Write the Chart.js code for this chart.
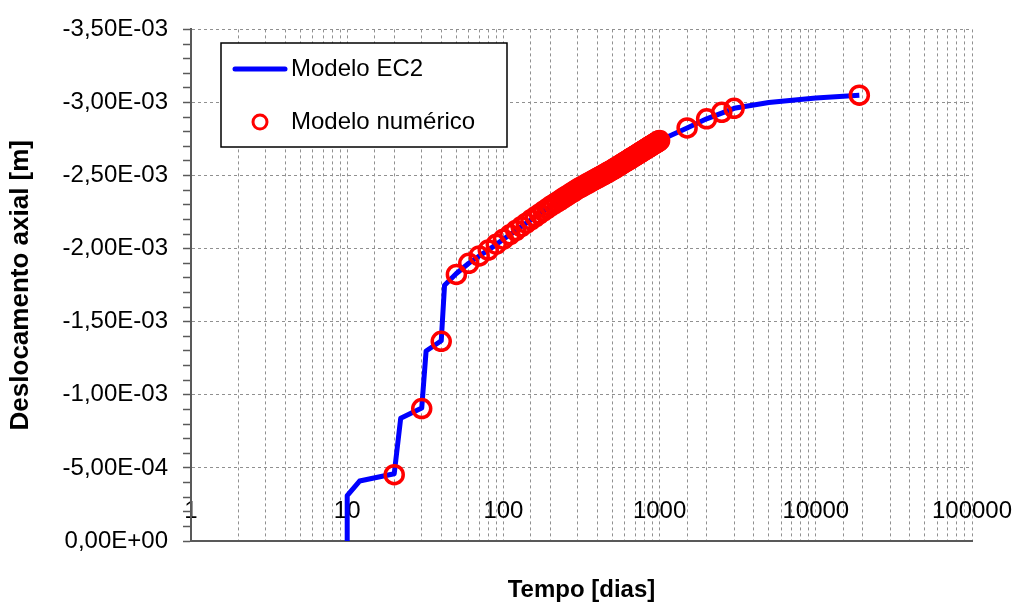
<!DOCTYPE html>
<html>
<head>
<meta charset="utf-8">
<script src="https://cdn.jsdelivr.net/npm/chart.js@4.4.1/dist/chart.umd.min.js"></script>
<style>
html, body { margin: 0; padding: 0; background: #fff; }
#wrap { width: 1021px; height: 607px; }
</style>
</head>
<body>
<div id="wrap"><canvas id="chart"></canvas></div>
<script>
// Modelo EC2 (linha)
const ec2Days = [10, 10, 12, 20, 22, 30, 32, 40, 42, 50, 60, 70, 80, 100, 150, 200, 300, 500, 700, 1000,
    1500, 2000, 3000, 5000, 10000, 19000];
const ec2Disp = [0, -0.31e-3, -0.41e-3, -0.46e-3, -0.84e-3, -0.91e-3, -1.30e-3, -1.37e-3, -1.75e-3, -1.83e-3,
    -1.90e-3, -1.95e-3, -1.99e-3, -2.065e-3, -2.197e-3, -2.29e-3, -2.41e-3, -2.54e-3, -2.637e-3, -2.74e-3,
    -2.826e-3, -2.888e-3, -2.96e-3, -3.00e-3, -3.03e-3, -3.05e-3];

// Modelo numerico (circulos)
const numDays = [20, 30, 40, 50, 60, 70, 80, 90, 100,
    110, 120, 130, 140, 150, 160, 170, 180, 190, 200,
    210, 220, 230, 240, 250, 260, 270, 280, 290, 300,
    310, 320, 330, 340, 350, 360, 370, 380, 390, 400,
    410, 420, 430, 440, 450, 460, 470, 480, 490, 500,
    510, 520, 530, 540, 550, 560, 570, 580, 590, 600,
    610, 620, 630, 640, 650, 660, 670, 680, 690, 700,
    710, 720, 730, 740, 750, 760, 770, 780, 790, 800,
    810, 820, 830, 840, 850, 860, 870, 880, 890, 900,
    910, 920, 930, 940, 950, 960, 970, 980, 990, 1000,
    1500, 2000, 2500, 3000, 19000];
const numDisp = [-0.454e-3, -0.906e-3, -1.366e-3, -1.824e-3, -1.900e-3, -1.950e-3, -1.990e-3, -2.030e-3, -2.065e-3,
    -2.095e-3, -2.124e-3, -2.150e-3, -2.174e-3, -2.197e-3, -2.218e-3, -2.237e-3, -2.256e-3, -2.273e-3, -2.290e-3,
    -2.304e-3, -2.318e-3, -2.331e-3, -2.344e-3, -2.356e-3, -2.367e-3, -2.379e-3, -2.389e-3, -2.400e-3, -2.410e-3,
    -2.418e-3, -2.426e-3, -2.434e-3, -2.442e-3, -2.449e-3, -2.456e-3, -2.463e-3, -2.470e-3, -2.477e-3, -2.483e-3,
    -2.489e-3, -2.496e-3, -2.501e-3, -2.507e-3, -2.513e-3, -2.519e-3, -2.524e-3, -2.530e-3, -2.535e-3, -2.540e-3,
    -2.546e-3, -2.551e-3, -2.557e-3, -2.562e-3, -2.567e-3, -2.573e-3, -2.578e-3, -2.583e-3, -2.588e-3, -2.593e-3,
    -2.597e-3, -2.602e-3, -2.607e-3, -2.611e-3, -2.616e-3, -2.620e-3, -2.624e-3, -2.629e-3, -2.633e-3, -2.637e-3,
    -2.641e-3, -2.645e-3, -2.649e-3, -2.653e-3, -2.657e-3, -2.661e-3, -2.664e-3, -2.668e-3, -2.672e-3, -2.676e-3,
    -2.679e-3, -2.683e-3, -2.686e-3, -2.690e-3, -2.693e-3, -2.697e-3, -2.700e-3, -2.703e-3, -2.707e-3, -2.710e-3,
    -2.713e-3, -2.716e-3, -2.719e-3, -2.722e-3, -2.725e-3, -2.728e-3, -2.731e-3, -2.734e-3, -2.737e-3, -2.740e-3,
    -2.826e-3, -2.888e-3, -2.933e-3, -2.960e-3, -3.050e-3];

const xTickLabels = ['1', '10', '100', '1000', '10000', '100000'];
const yTickLabels = ['0,00E+00', '-5,00E-04', '-1,00E-03', '-1,50E-03', '-2,00E-03', '-2,50E-03', '-3,00E-03', '-3,50E-03'];

Chart.defaults.font.family = "'Liberation Sans', Arial, sans-serif";
Chart.defaults.color = '#000';

function isMajorY(v) {
    return Math.round(-v * 1e4) % 5 === 0;
}

// icones da legenda
function legendLineIcon() {
    const c = document.createElement('canvas');
    c.width = 56; c.height = 8;
    const g = c.getContext('2d');
    g.strokeStyle = '#0000ff';
    g.lineWidth = 5;
    g.lineCap = 'round';
    g.beginPath(); g.moveTo(3, 4); g.lineTo(53, 4); g.stroke();
    return c;
}
function legendRingIcon() {
    const c = document.createElement('canvas');
    c.width = 22; c.height = 22;
    const g = c.getContext('2d');
    g.strokeStyle = '#ff0000';
    g.lineWidth = 3;
    g.beginPath(); g.arc(11, 11, 7, 0, Math.PI * 2); g.stroke();
    return c;
}
const legendIcons = [legendLineIcon(), legendRingIcon()];

// coloca a legenda dentro da area do grafico, com moldura
const legendBox = {
    id: 'legendBox',
    afterLayout(chart) {
        const lg = chart.legend;
        lg.left = 212; lg.top = 28;
        lg.right = 530; lg.bottom = 180;
        lg.width = 318; lg.height = 152;
    },
    beforeDatasetsDraw(chart) {
        const ctx = chart.ctx;
        ctx.save();
        ctx.fillStyle = '#fff';
        ctx.strokeStyle = '#000';
        ctx.lineWidth = 1.5;
        ctx.fillRect(221, 43, 286, 104);
        ctx.strokeRect(221, 43, 286, 104);
        ctx.restore();
        chart.legend.draw();
    }
};

const chart = new Chart(document.getElementById('chart'), {
    type: 'line',
    data: {
        datasets: [
            {
                label: 'Modelo EC2',
                data: ec2Days.map((d, i) => ({ x: d, y: ec2Disp[i] })),
                borderColor: '#0000ff',
                backgroundColor: '#0000ff',
                borderWidth: 5,
                borderJoinStyle: 'round',
                pointRadius: 0,
                tension: 0,
                order: 2
            },
            {
                label: 'Modelo numérico',
                data: numDays.map((d, i) => ({ x: d, y: numDisp[i] })),
                showLine: false,
                borderColor: '#ff0000',
                backgroundColor: 'rgba(0,0,0,0)',
                pointRadius: 9,
                pointBorderWidth: 3.5,
                pointBorderColor: '#ff0000',
                pointBackgroundColor: 'rgba(0,0,0,0)',
                order: 1
            }
        ]
    },
    options: {
        animation: false,
        responsive: true,
        maintainAspectRatio: false,
        events: [],
        layout: { padding: { top: 21, right: 49, bottom: 0, left: 0 } },
        scales: {
            x: {
                type: 'logarithmic',
                min: 1,
                max: 100000,
                afterFit: s => { s.height = 66; s.paddingLeft = 0; s.paddingRight = 40; },
                grid: { color: '#909090', lineWidth: 1, drawTicks: false },
                border: { color: '#595959', width: 2, dash: [3, 3] },
                ticks: {
                    autoSkip: false,
                    maxRotation: 0,
                    mirror: true,
                    padding: 15,
                    font: { size: 24 },
                    callback: function(value) {
                        const e = Math.round(Math.log10(value));
                        if (Math.abs(value - Math.pow(10, e)) < 1e-6 * value) return xTickLabels[e];
                        return '';
                    }
                },
                title: {
                    display: true,
                    text: 'Tempo [dias]',
                    font: { size: 24, weight: 'bold' },
                    padding: { top: 0, bottom: 2 }
                }
            },
            y: {
                type: 'linear',
                reverse: true,
                min: -0.0035,
                max: 0,
                afterFit: s => { s.width = 191; },
                grid: {
                    color: c => (c.tick && isMajorY(c.tick.value)) ? '#909090' : 'rgba(0,0,0,0)',
                    lineWidth: 1,
                    tickColor: '#595959',
                    tickLength: 8,
                    tickWidth: 1.5
                },
                border: { color: '#595959', width: 2, dash: [3, 3] },
                ticks: {
                    stepSize: 0.0001,
                    autoSkip: false,
                    padding: 15,
                    font: { size: 24 },
                    callback: function(value) {
                        const k = Math.round(-value * 1e4);
                        return k % 5 === 0 ? yTickLabels[k / 5] : '';
                    }
                },
                title: {
                    display: true,
                    text: 'Deslocamento axial [m]',
                    font: { size: 26, weight: 'bold' },
                    padding: { top: 5, bottom: 0 }
                }
            }
        },
        plugins: {
            tooltip: { enabled: false },
            legend: {
                position: 'chartArea',
                align: 'start',
                labels: {
                    usePointStyle: true,
                    pointStyleWidth: 38,
                    boxHeight: 24,
                    padding: 29,
                    textAlign: 'left',
                    font: { size: 24 },
                    sort: (a, b) => a.datasetIndex - b.datasetIndex,
                    generateLabels: function(chart) {
                        const items = Chart.defaults.plugins.legend.labels.generateLabels(chart);
                        items.forEach(it => { it.pointStyle = legendIcons[it.datasetIndex]; });
                        return items;
                    }
                }
            }
        }
    },
    plugins: [legendBox]
});
</script>
</body>
</html>
